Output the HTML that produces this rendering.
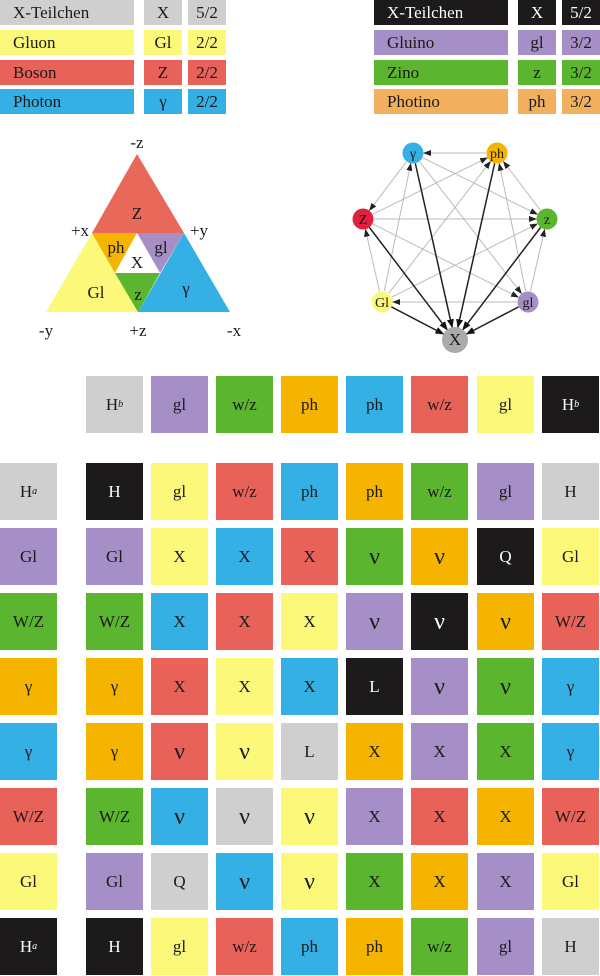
<!DOCTYPE html>
<html><head><meta charset="utf-8"><style>
body{margin:0;width:600px;height:976px;background:#fff;position:relative;overflow:hidden;font-family:"Liberation Serif",serif;color:#1a1a1a}
.b{position:absolute;display:flex;align-items:center;justify-content:center;font-size:17px}
.l{justify-content:flex-start;padding-left:13px;box-sizing:border-box}
.w{color:#fff}
.nu{font-size:24px;line-height:1}
sub{font-size:10px;font-style:italic;vertical-align:-4px}
</style></head><body>
<div id="root"></div>
<svg style="position:absolute;left:0;top:0" width="600" height="976">
<defs>
<marker id="ag" markerWidth="8" markerHeight="8" refX="7" refY="3" orient="auto" markerUnits="userSpaceOnUse"><path d="M0,0L8,3L0,6z" fill="#222"/></marker>
<marker id="ad" markerWidth="9" markerHeight="9" refX="8" refY="3.5" orient="auto" markerUnits="userSpaceOnUse"><path d="M0,0L9,3.5L0,7z" fill="#111"/></marker>
</defs>
<polygon points="137,154 92,233 184,233" fill="#e8685a"/>
<polygon points="92,233 46,312 138,312" fill="#fbf87a"/>
<polygon points="184,233 138,312 230,312" fill="#35b0e5"/>
<polygon points="92,233 137,233 115,273" fill="#f4b400"/>
<polygon points="137,233 184,233 160,273" fill="#a68ec6"/>
<polygon points="115,273 160,273 138,312" fill="#5bb52e"/>
<polygon points="137,233 115,273 160,273" fill="#fff"/>
<g font-family="Liberation Serif,serif" font-size="17" text-anchor="middle" fill="#1a1a1a">
<text x="137" y="148">-z</text><text x="80" y="236">+x</text><text x="199" y="236">+y</text>
<text x="46" y="336">-y</text><text x="138" y="336">+z</text><text x="234" y="336">-x</text>
<text x="137" y="219">Z</text><text x="116" y="253">ph</text><text x="161" y="253">gl</text>
<text x="137" y="268">X</text><text x="96" y="298">Gl</text><text x="138" y="300">z</text><text x="186" y="294">γ</text>
</g>
<g id="edges"></g>
<g id="nodes"></g>
</svg>
<script>
var R=document.getElementById('root');
function box(x,y,w,h,bg,t,cls){var d=document.createElement('div');d.className='b '+(cls||'');d.style.cssText='left:'+x+'px;top:'+y+'px;width:'+w+'px;height:'+h+'px;background:'+bg;d.innerHTML=(t=='ν')?'<span class="nu">ν</span>':t;R.appendChild(d);}
var C={g:'#cfcfcf',p:'#a68ec6',G:'#5bb52e',o:'#f4b400',b:'#35b0e5',r:'#e8625a',y:'#fbf87a',k:'#1c1a1a',O:'#f2b05e'};
var ly=[0,30,60,89];
var L1=[['g','X-Teilchen','X','5/2'],['y','Gluon','Gl','2/2'],['r','Boson','Z','2/2'],['b','Photon','γ','2/2']];
var L2=[['k','X-Teilchen','X','5/2'],['p','Gluino','gl','3/2'],['G','Zino','z','3/2'],['O','Photino','ph','3/2']];
L1.forEach(function(r,i){box(0,ly[i],134,25,C[r[0]],r[1],'l');box(144,ly[i],38,25,C[r[0]],r[2]);box(188,ly[i],38,25,C[r[0]],r[3]);});
L2.forEach(function(r,i){var w=r[0]=='k'?' w':'';box(374,ly[i],134,25,C[r[0]],r[1],'l'+w);box(518,ly[i],38,25,C[r[0]],r[2],w);box(562,ly[i],38,25,C[r[0]],r[3],w);});
var cx=[0,86,151,216,281,346,411,477,542];
var hdr=[['g','H<sub>b</sub>'],['p','gl'],['G','w/z'],['o','ph'],['b','ph'],['r','w/z'],['y','gl'],['k','H<sub>b</sub>']];
hdr.forEach(function(c,i){box(cx[i+1],376,57,57,C[c[0]],c[1],c[0]=='k'?'w':'');});
var rows=[
[['g','H<sub>a</sub>'],['k','H'],['y','gl'],['r','w/z'],['b','ph'],['o','ph'],['G','w/z'],['p','gl'],['g','H']],
[['p','Gl'],['p','Gl'],['y','X'],['b','X'],['r','X'],['G','ν'],['o','ν'],['k','Q'],['y','Gl']],
[['G','W/Z'],['G','W/Z'],['b','X'],['r','X'],['y','X'],['p','ν'],['k','ν'],['o','ν'],['r','W/Z']],
[['o','γ'],['o','γ'],['r','X'],['y','X'],['b','X'],['k','L'],['p','ν'],['G','ν'],['b','γ']],
[['b','γ'],['o','γ'],['r','ν'],['y','ν'],['g','L'],['o','X'],['p','X'],['G','X'],['b','γ']],
[['r','W/Z'],['G','W/Z'],['b','ν'],['g','ν'],['y','ν'],['p','X'],['r','X'],['o','X'],['r','W/Z']],
[['y','Gl'],['p','Gl'],['g','Q'],['b','ν'],['y','ν'],['G','X'],['o','X'],['p','X'],['y','Gl']],
[['k','H<sub>a</sub>'],['k','H'],['y','gl'],['r','w/z'],['b','ph'],['o','ph'],['G','w/z'],['p','gl'],['g','H']]];
rows.forEach(function(r,j){r.forEach(function(c,i){box(cx[i],463+65*j,57,57,C[c[0]],c[1],c[0]=='k'?'w':'');});});
var N={g:[413,153,'#35b0e5','γ'],ph:[497,153,'#f4b400','ph'],Z:[363,219,'#e0203c','Z'],z:[547,219,'#5bb52e','z'],Gl:[382,302,'#fbf87a','Gl'],gl:[528,302,'#a68ec6','gl'],X:[455,340,'#aaaaaa','X']};
var E=document.getElementById('edges'),ns='http://www.w3.org/2000/svg';
var keys=['g','ph','Z','z','Gl','gl'];
function line(a,b,thick){var A=N[a],B=N[b],dx=B[0]-A[0],dy=B[1]-A[1],d=Math.hypot(dx,dy),ra=a=='X'?13:11,rb=b=='X'?13:11;
var l=document.createElementNS(ns,'line');l.setAttribute('x1',A[0]+dx/d*ra);l.setAttribute('y1',A[1]+dy/d*ra);l.setAttribute('x2',B[0]-dx/d*rb);l.setAttribute('y2',B[1]-dy/d*rb);
l.setAttribute('stroke',thick?'#222':'#bbb');l.setAttribute('stroke-width',thick?1.5:1);l.setAttribute('marker-end',thick?'url(#ad)':'url(#ag)');if(thick)l.setAttribute('marker-start','url(#ad)');E.appendChild(l);}
var pairs=[['ph','g'],['g','Z'],['Gl','g'],['Gl','Z'],['g','z'],['g','gl'],['Z','ph'],['Gl','ph'],['z','ph'],['gl','ph'],['Z','z'],['Z','gl'],['Gl','z'],['gl','z'],['gl','Gl']];
pairs.forEach(function(p){line(p[0],p[1],false);});
keys.forEach(function(k){line(k,'X',true);});
var G=document.getElementById('nodes');
for(var k in N){var n=N[k],c=document.createElementNS(ns,'circle');c.setAttribute('cx',n[0]);c.setAttribute('cy',n[1]);c.setAttribute('r',k=='X'?13:10.5);c.setAttribute('fill',n[2]);G.appendChild(c);
var t=document.createElementNS(ns,'text');t.setAttribute('x',n[0]);t.setAttribute('y',n[1]+5);t.setAttribute('text-anchor','middle');t.setAttribute('font-size',k=='X'?17:14);t.setAttribute('font-family','Liberation Serif,serif');t.setAttribute('fill','#1a1a1a');t.textContent=n[3];G.appendChild(t);}
</script>
</body></html>
